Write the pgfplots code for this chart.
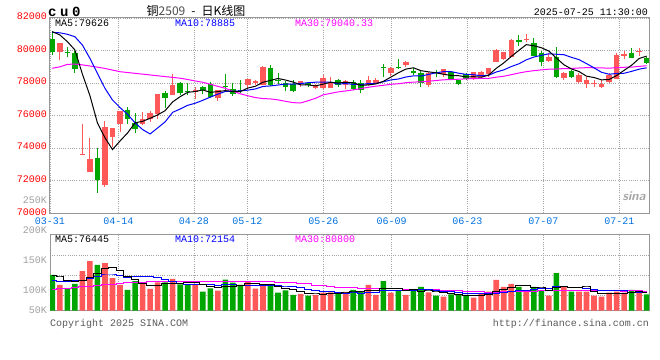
\documentclass[border=0pt]{standalone}
\usepackage{pgfplots}
\pgfplotsset{compat=1.18}
\usepackage{pgfplotstable}
\usepackage{fontspec}
\setmainfont{Liberation Sans}
\setmonofont{Liberation Mono}
\newfontfamily\cjk{Noto Sans CJK SC}
\definecolor{cred}{RGB}{255,88,88}
\definecolor{cgreen}{RGB}{0,166,0}
\definecolor{pricered}{RGB}{255,0,0}
\definecolor{dateblue}{RGB}{0,112,224}
\definecolor{gridgray}{RGB}{165,165,165}
\definecolor{framegray}{RGB}{150,150,150}
\definecolor{volgray}{RGB}{160,160,160}
\definecolor{mablue}{RGB}{0,0,255}
\definecolor{mamag}{RGB}{255,0,255}

\pgfplotstableread{
i o h l c v
1 79934 80470 79422 80446 109440
4 73590 75488 73560 73650 132620
5 72557 74647 72520 73336 149180
7 71738 75672 71635 75324 145870
8 74709 75240 74094 75221 121030
9 75467 76300 75016 76287 109440
12 75467 76205 75426 75774 111100
13 75774 76287 75631 76143 102820
14 76082 77340 75795 77332 113860
16 77270 78540 77250 77885 119380
19 77475 77782 77024 77577 110540
22 77066 77600 76922 77578 100060
26 77885 78270 77680 78254 116060
27 77988 78193 77885 78131 103370
28 77885 79053 77860 79012 110540
33 77926 78150 77783 78131 94540
35 77722 77926 77620 77824 92880
36 77681 78500 77660 78336 96740
37 77721 78397 77700 78090 97300
39 77885 78193 77640 78131 97850
42 77885 78439 77845 78193 109440
43 78029 78290 77947 78193 92880
45 78602 78970 78439 78950 96740
47 79135 79340 79012 79319 92880
50 77885 78705 77783 78602 97300
52 78541 78890 78398 78869 90120
56 78336 78680 78193 78664 88460
57 78398 78720 78234 78705 95640
58 78541 78930 78398 78910 98400
59 79319 80098 79300 80020 117720
60 79483 79910 79440 79893 106130
61 79627 80712 79600 80651 111100
63 80640 81000 80500 80700 98400
66 79381 79872 79278 79627 91780
68 78295 78660 78192 78643 106130
70 78049 78602 78030 78500 98400
71 77926 78397 77680 78192 98400
72 77920 78192 77783 77988 91780
73 77782 78192 77700 77926 90120
74 78049 78602 78030 78500 96740
75 78254 79831 78230 79729 98400
76 79680 79975 79462 79770 96740
78 79940 80139 79667 80000 96740
}\redtab

\pgfplotstableread{
i o h l c v
0 80713 81204 79729 79934 126000
2 79940 80200 79585 79880 103920
3 79831 79975 78643 78848 111100
6 73418 74033 71267 72045 142560
10 76348 76553 75467 75795 101160
11 75528 76143 74914 75180 116060
15 77373 77516 76492 77106 113860
17 77987 78090 77270 77373 110540
18 77540 77987 77270 77475 110540
20 77783 77850 77312 77578 98400
21 77947 78049 77100 77168 103920
23 77840 78562 77578 77783 118270
24 77619 78028 77230 77332 113300
25 77600 78193 77373 77537 109440
29 78910 79115 77824 77885 109440
30 78193 78603 77947 78131 96740
31 77988 78152 77517 77783 100610
32 77947 78193 77476 77517 92880
34 78029 78090 77783 77885 91780
38 78193 78254 77783 77885 96190
40 78070 78193 77578 77650 101160
41 77988 78193 77373 77578 99500
44 78990 79176 78398 78930 116060
46 78970 79483 78890 78910 100060
48 78766 78900 78500 78602 101160
49 78643 78807 77783 78029 106130
51 78705 78807 78398 78602 91780
53 78705 78746 78193 78254 93980
54 78193 78210 77885 77947 92880
55 78561 78643 78193 78234 92880
62 80651 80958 80303 80549 106130
64 80446 80754 79670 79688 106130
65 79831 79975 79073 79278 100610
67 79627 80200 78295 78397 129310
69 78766 78780 78295 78397 98400
77 79831 80139 79524 79565 101160
79 79524 79627 79200 79217 93980
}\greentab

\pgfplotstableread{
i ma5 ma10 ma30
0 81160 81120 78910
1 80960 81090 79000
2 80550 81000 79150
3 80040 80850 79170
4 78552 80340 79120
5 77232 79520 79050
6 75552 78600 78980
7 74641 77680 78900
8 73915 76960 78800
9 74443 76497 78700
10 74934 76083 78650
11 75561 75557 78600
12 75651 75146 78550
13 75836 74876 78500
14 76045 75244 78450
15 76307 75621 78400
16 76848 76205 78350
17 77168 76410 78300
18 77434 76635 78220
19 77483 76764 78130
20 77578 76942 78050
21 77434 77141 77930
22 77475 77322 77800
23 77537 77486 77680
24 77488 77486 77500
25 77480 77529 77340
26 77697 77566 77220
27 77807 77641 77110
28 78053 77795 77050
29 78164 77826 77029
30 78283 77881 76969
31 78188 77943 76880
32 78066 77937 76801
33 77889 77971 76777
34 77889 78027 76919
35 77828 78055 77068
36 77939 78064 77278
37 78053 78059 77370
38 78004 77947 77459
39 78053 77971 77520
40 78018 77923 77582
41 77867 77903 77662
42 77887 77970 77743
43 77949 77977 77811
44 78109 78081 77864
45 78369 78194 77926
46 78635 78251 77960
47 78860 78374 78025
48 78942 78446 78062
49 78762 78435 78078
50 78692 78531 78112
51 78631 78633 78159
52 78541 78701 78202
53 78471 78707 78218
54 78455 78608 78239
55 78381 78537 78262
56 78394 78512 78276
57 78361 78451 78295
58 78492 78482 78291
59 78907 78681 78362
60 79238 78810 78421
61 79636 79015 78517
62 80005 79183 78618
63 80363 79427 78704
64 80296 79601 78764
65 80173 79706 78812
66 79968 79802 78855
67 79538 79771 78865
68 79127 79745 78891
69 78868 79582 78899
70 78713 79443 78928
71 78426 79197 78948
72 78344 78941 78941
73 78201 78664 78933
74 78221 78545 78918
75 78467 78590 78944
76 78783 78604 78973
77 79098 78721 78981
78 79513 78857 79028
79 79656 78939 79067
}\matab

\pgfplotstableread{
i v5 v10 v30
0 124900 116600 102300
1 122700 116000 103000
2 117700 116000 104000
3 115000 116600 105000
4 116616 117000 106200
5 121252 120000 107500
6 127876 124000 109000
7 136266 126000 110000
8 138252 126000 111000
9 133616 125116 111700
10 124012 122632 112800
11 118712 123294 113500
12 111758 124012 114000
13 108116 123184 114500
14 109000 121308 115000
15 111540 117776 115300
16 112204 115458 115500
17 112092 111925 115600
18 113636 110876 115700
19 112972 110986 115700
20 109880 110710 115700
21 106788 109496 115600
22 104692 108392 115500
23 106238 109937 115400
24 106790 109881 115300
25 108998 109439 115200
26 111426 109107 115100
27 112088 108390 115000
28 110542 108390 114900
29 109770 108280 114794
30 107230 108114 113819
31 104140 107783 113524
32 102042 107065 113156
33 98842 104692 112604
34 95310 102540 111243
35 94538 100884 109366
36 93764 98952 107839
37 94648 98345 106220
38 94978 96910 105392
39 96192 95751 105006
40 97848 96193 105006
41 98400 96082 104454
42 100828 97738 104398
43 100166 97572 104067
44 103808 100000 104140
45 102924 100386 103570
46 103036 100718 102926
47 99724 100276 102337
48 101380 100773 102024
49 99394 101601 101877
50 99506 101215 101841
51 97850 100443 101436
52 97298 98511 101105
53 95862 98621 100295
54 93212 96303 99614
55 92328 95917 99062
56 91664 94757 98142
57 92768 95033 97885
58 93652 94757 97480
59 98620 95916 97756
60 101270 96799 98069
61 105798 98731 98419
62 107896 100332 98860
63 107896 100774 98989
64 105578 102099 99467
65 104474 102872 99725
66 100610 103204 99560
67 105246 106571 100627
68 106792 107344 100958
69 105246 105412 100976
70 104804 104639 100884
71 106128 103369 100848
72 98622 101934 100259
73 95420 101106 100167
74 95088 100167 99523
75 95088 99946 99578
76 94756 100442 99468
77 96632 97627 99744
78 97956 96688 99596
79 97404 96246 99191
}\vmatab

\newcommand{\monof}{\ttfamily\fontsize{10bp}{12bp}\selectfont}

\pgfplotsset{
  sina/.style={
    scale only axis, width=599bp, anchor=south west,
    xmin=-0.306, xmax=79.31,
    scaled x ticks=false, scaled y ticks=false,
    axis line style={framegray, line width=1bp},
    major tick length=0pt, tick style={draw=none},
    grid=major,
    major grid style={gridgray, line width=0.8bp, dash pattern=on 1bp off 1.2bp},
    xtick={-0.306,8.77,18.83,25.92,36.02,45.1,55.16,65.26,75.36},
  },
  wick/.style={forget plot, draw=none, mark=none,
    error bars/.cd, y dir=plus, y explicit, error mark=none,
    error bar style={draw=#1, line width=1bp}},
  body/.style={forget plot, draw=none, mark=none,
    error bars/.cd, y dir=plus, y explicit, error mark=none,
    error bar style={draw=#1, line width=5.5bp}},
}

\begin{document}
\begin{tikzpicture}
\useasboundingbox (0,0) rectangle (660bp,360bp);

% ---------------- price panel ----------------
\begin{axis}[sina, at={(50bp,146.7bp)}, height=195.3bp,
  ymin=70000, ymax=82000,
  ytick={70000,72000,74000,76000,78000,80000,82000},
  yticklabels={70000,72000,74000,76000,78000,80000,82000},
  yticklabel style={font=\monof, text=pricered, anchor=east, inner sep=0pt, xshift=-3bp, yshift=1.5bp},
  xticklabels={03-31,04-14,04-28,05-12,05-26,06-09,06-23,07-07,07-21},
  xticklabel style={font=\monof, text=dateblue, inner sep=0pt, yshift=-4bp},
]
\addplot[wick=cred] table[x=i, y=l, y error plus expr={\thisrow{h}-\thisrow{l}}] {\redtab};
\addplot[body=cred] table[x=i, y=o, y error plus expr={\thisrow{c}-\thisrow{o}}] {\redtab};
\addplot[wick=cgreen] table[x=i, y=l, y error plus expr={\thisrow{h}-\thisrow{l}}] {\greentab};
\addplot[body=cgreen] table[x=i, y=c, y error plus expr={\thisrow{o}-\thisrow{c}}] {\greentab};
\addplot[mamag, line width=1bp, mark=none] table[x=i, y=ma30] {\matab};
\addplot[mablue, line width=1bp, mark=none] table[x=i, y=ma10] {\matab};
\addplot[black, line width=1bp, mark=none] table[x=i, y=ma5] {\matab};
\end{axis}

% ---------------- volume panel ----------------
\begin{axis}[sina, at={(50bp,49.3bp)}, height=76.4bp,
  ymin=66880, ymax=193400,
  ytick={92380,124840,157960}, yticklabels={},
  xticklabels={},
]
\addplot[ybar, bar width=5.6bp, bar shift=0pt, fill=cred, draw=none] table[x=i, y=v] {\redtab};
\addplot[ybar, bar width=5.6bp, bar shift=0pt, fill=cgreen, draw=none] table[x=i, y=v] {\greentab};
\addplot[mamag, line width=1bp, mark=none, const plot mark mid] table[x=i, y=v30] {\vmatab};
\addplot[mablue, line width=1bp, mark=none, const plot mark mid] table[x=i, y=v10] {\vmatab};
\addplot[black, line width=1bp, mark=none, const plot mark mid] table[x=i, y=v5] {\vmatab};
\end{axis}

% ---------------- texts ----------------
\node[anchor=west, inner sep=0pt] at (48bp,348.5bp) {\ttfamily\bfseries\fontsize{14bp}{16bp}\selectfont c\hspace{3.6bp}u\hspace{3.6bp}0};
\node[inner sep=0pt] at (196bp,349.5bp) {\cjk\fontsize{12bp}{14bp}\selectfont 铜{\color{black!70}2509}\hspace{6bp}-\hspace{6bp}日K线图};
\node[anchor=east, inner sep=0pt] at (648bp,348bp) {\monof 2025-07-25 11:30:00};

\node[anchor=west, inner sep=0pt] at (55bp,336.3bp) {\monof MA5:79626};
\node[anchor=west, inner sep=0pt, text=mablue] at (175bp,336.3bp) {\monof MA10:78885};
\node[anchor=west, inner sep=0pt, text=mamag] at (295bp,336.3bp) {\monof MA30:79040.33};

\node[anchor=west, inner sep=0pt] at (55bp,121bp) {\monof MA5:76445};
\node[anchor=west, inner sep=0pt, text=mablue] at (175bp,121bp) {\monof MA10:72154};
\node[anchor=west, inner sep=0pt, text=mamag] at (295bp,121bp) {\monof MA30:80800};

\node[anchor=east, inner sep=0pt, text=volgray] at (47bp,160bp) {\monof 250K};
\node[anchor=east, inner sep=0pt, text=volgray] at (47bp,129.3bp) {\monof 200K};
\node[anchor=east, inner sep=0pt, text=volgray] at (47bp,100bp) {\monof 150K};
\node[anchor=east, inner sep=0pt, text=volgray] at (47bp,69.3bp) {\monof 100K};
\node[anchor=east, inner sep=0pt, text=volgray] at (47bp,49.3bp) {\monof 50K};

\node[anchor=west, inner sep=0pt, text=black!65] at (50bp,36bp) {\monof Copyright 2025 SINA.COM};
\node[anchor=east, inner sep=0pt, text=black!65] at (649bp,36bp) {\monof http://finance.sina.com.cn};

\node[inner sep=0pt, text=black!35] at (634bp,164bp) {\sffamily\bfseries\itshape\fontsize{13bp}{14bp}\selectfont sina};
\end{tikzpicture}
\end{document}
